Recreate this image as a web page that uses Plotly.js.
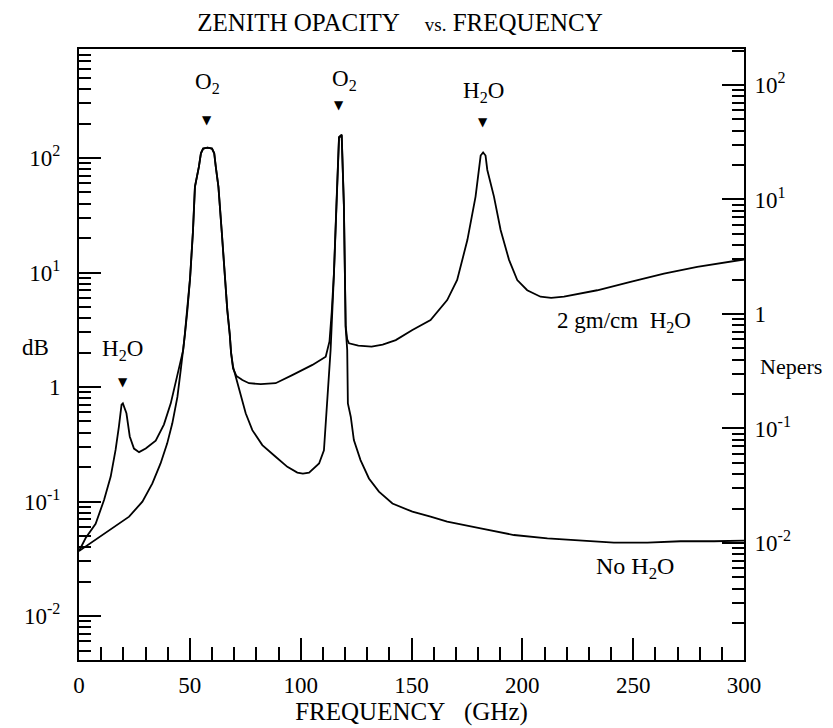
<!DOCTYPE html>
<html>
<head>
<meta charset="utf-8">
<script src="https://cdn.plot.ly/plotly-3.0.1.min.js"></script>
<style>html,body{margin:0;padding:0;background:#fff;}#chart{width:833px;height:728px;}</style>
</head>
<body>
<div id="chart"></div>
<script>
// ---- data (frequency in GHz, opacity in dB) ----
const freqWet = [0,3,7.5,11.3,14.3,16.5,18,19.2,19.8,21.4,22.9,24.8,27.1,30.1,34.6,38.3,41.4,43.6,45.9,47,47.8,48.9,50.1,51.4,52.3,54.1,55,56,58,60,61,61.7,62.9,64.4,65.7,66.9,68,68.6,69.5,71,73.7,76.7,82,88.7,96.2,105.3,111.3,113,114,115,116.1,117.3,118.5,119.5,120.3,121,121.8,126,132,137,142.9,150.4,158.6,166.1,170.6,175.2,178.9,181.2,182.3,183.4,184.2,187.2,190.2,194,197.7,202.2,208.2,213,218.8,233.8,248.8,263.9,278.9,300];
const wetDB = [0.037,0.048,0.064,0.103,0.165,0.282,0.45,0.70,0.72,0.59,0.37,0.29,0.27,0.29,0.34,0.47,0.72,1.08,1.61,2.1,2.97,4.7,8.9,22.7,56,84,110,121,123,121,110,84,56,22.7,8.9,4.7,2.9,2.0,1.45,1.25,1.15,1.08,1.06,1.08,1.27,1.56,1.84,2.5,4.5,9.8,37.6,153,160,39,3.4,2.6,2.41,2.3,2.25,2.35,2.57,3.15,3.85,5.75,8.6,19.2,46,105,112,105,78.6,46,23.5,12.9,8.6,7.0,6.15,6.0,6.15,7.0,8.3,9.8,11.2,13.0];

const freqDry = [0,6,15,22.6,28.6,33.1,36.8,39.8,42.1,44.4,45.9,46.9,47.8,48.9,50.1,51.4,52.3,54.1,55,56,58,60,61,61.7,62.9,64.4,65.7,66.9,68,68.6,69.5,70.7,72.9,75.2,78.2,82.7,88.7,94,98.5,101,103.8,108.3,110.5,111.6,112.8,113.5,115,116.1,117.3,118.5,119.5,120.3,121,121.3,122.6,124,127,130.8,135.3,141.4,150.4,158.6,166.1,181.2,196.2,211.3,226.3,241.3,256.4,271.4,286.5,300];
const dryDB = [0.037,0.0446,0.0583,0.0738,0.0998,0.144,0.215,0.322,0.482,0.82,1.41,2.0,2.9,4.7,8.9,22.7,56,84,110,121,123,121,110,84,56,22.7,8.9,4.7,2.9,2.0,1.5,1.23,0.82,0.59,0.42,0.311,0.246,0.201,0.179,0.175,0.179,0.215,0.28,0.55,1.15,2.1,9.6,37,150,158,38,3.3,2.1,0.72,0.55,0.344,0.23,0.159,0.122,0.096,0.0815,0.0738,0.0667,0.0583,0.051,0.0477,0.0455,0.0437,0.0437,0.045,0.045,0.0455];

const xTickVals = [0,50,100,150,200,250,300];
const xMinorVals = [10,20,30,40,60,70,80,90,110,120,130,140,160,170,180,190,210,220,230,240,260,270,280,290];
const yTickVals = [0.01,0.1,1,10,100];
const yTickText = ['10<sup>-2</sup>','10<sup>-1</sup>','1','10<sup>1</sup>','10<sup>2</sup>'];
const lineLabels = ['O<sub>2</sub>','O<sub>2</sub>','H<sub>2</sub>O','H<sub>2</sub>O'];
const lineFreqs = [57.8, 117.3, 182.3, 19.8];
const curveLabels = ['2 gm/cm\u00a0\u00a0H<sub>2</sub>O', 'No H<sub>2</sub>O'];

const DB_PER_NEPER = 4.343;
const FONT = 'Liberation Serif';

// minor log ticks
function logMinor(lo, hi){
  const out=[];
  for(let n=lo;n<=hi;n++){ for(let k=2;k<=9;k++){ out.push(k*Math.pow(10,n)); } }
  return out;
}
const yMinorVals = logMinor(-3,2);

const yRange = [-2.384, 2.952];
const y2Range = [yRange[0]-Math.log10(DB_PER_NEPER), yRange[1]-Math.log10(DB_PER_NEPER)];

const traces = [
  {x: freqWet, y: wetDB, type:'scatter', mode:'lines', line:{color:'#000', width:1.8}, name:'2 gm/cm H2O', hoverinfo:'x+y'},
  {x: freqDry, y: dryDB, type:'scatter', mode:'lines', line:{color:'#000', width:1.8}, name:'No H2O', hoverinfo:'x+y'},
  {x: [], y: [], yaxis:'y2', type:'scatter', mode:'lines', showlegend:false}
];

const axisCommon = {
  showgrid:false, zeroline:false, showline:true, linecolor:'#000', linewidth:2,
  ticks:'inside', ticklen:22, tickwidth:2, tickcolor:'#000',
  tickfont:{family:FONT, size:23, color:'#000'}
};

const annotations = [];
const labelPY = [0.944, 0.949, 0.93, 0.507];
const arrowPY = [0.884, 0.908, 0.881, 0.455];
for(let i=0;i<lineFreqs.length;i++){
  annotations.push({xref:'x', yref:'paper', x:lineFreqs[i]+ (i===1?2.5:0), y:labelPY[i], text:lineLabels[i], showarrow:false,
    font:{family:FONT, size:23, color:'#000'}, xanchor:'center', yanchor:'middle'});
  annotations.push({xref:'x', yref:'paper', x:lineFreqs[i], y:arrowPY[i], text:'▼', showarrow:false,
    font:{family:'DejaVu Sans', size:12, color:'#000'}, xanchor:'center', yanchor:'middle'});
}
annotations.push({xref:'x', yref:'paper', x:245.9, y:0.553, text:curveLabels[0], showarrow:false,
  font:{family:FONT, size:23, color:'#000'}, xanchor:'center', yanchor:'middle'});
annotations.push({xref:'x', yref:'paper', x:250.8, y:0.151, text:curveLabels[1], showarrow:false,
  font:{family:FONT, size:24, color:'#000'}, xanchor:'center', yanchor:'middle'});
annotations.push({xref:'paper', yref:'paper', x:-0.065, y:0.512, text:'dB', showarrow:false,
  font:{family:FONT, size:23, color:'#000'}, xanchor:'center', yanchor:'middle'});
annotations.push({xref:'paper', yref:'paper', x:1.071, y:0.480, text:'Nepers', showarrow:false,
  font:{family:FONT, size:22, color:'#000'}, xanchor:'center', yanchor:'middle'});

const NB = '\u00a0';
const layout = {
  width:833, height:728,
  margin:{l:79, r:89, t:49, b:68, pad:0},
  paper_bgcolor:'#fff', plot_bgcolor:'#fff',
  showlegend:false,
  title:{text:'ZENITH OPACITY'+NB.repeat(4)+'<span style="font-size:19px">vs.</span> FREQUENCY', x:400/833, xanchor:'center', xref:'container', y:1-22/728, yref:'container', yanchor:'middle',
    font:{family:FONT, size:25, color:'#000'}},
  xaxis: Object.assign({}, axisCommon, {
    range:[0,300], tickmode:'array', tickvals:xTickVals, mirror:true,
    ticklabelstandoff:3,
    minor:{tickmode:'array', tickvals:xMinorVals, ticks:'inside', ticklen:13, tickwidth:2, tickcolor:'#000', showgrid:false},
    title:{text:'FREQUENCY'+NB.repeat(3)+'(GHz)'+NB.repeat(8), font:{family:FONT, size:25, color:'#000'}, standoff:2}
  }),
  yaxis: Object.assign({}, axisCommon, {
    type:'log', range:yRange, tickmode:'array', tickvals:yTickVals, ticktext:yTickText,
    ticklabelstandoff:12,
    minor:{tickmode:'array', tickvals:yMinorVals, ticks:'inside', ticklen:12, tickwidth:2, tickcolor:'#000', showgrid:false}
  }),
  yaxis2: Object.assign({}, axisCommon, {
    type:'log', range:y2Range, overlaying:'y', side:'right', tickmode:'array', tickvals:yTickVals, ticktext:yTickText,
    ticklabelstandoff:4,
    minor:{tickmode:'array', tickvals:yMinorVals, ticks:'inside', ticklen:12, tickwidth:2, tickcolor:'#000', showgrid:false}
  }),
  annotations: annotations
};

Plotly.newPlot('chart', traces, layout, {displayModeBar:false, staticPlot:true});
</script>
</body>
</html>
